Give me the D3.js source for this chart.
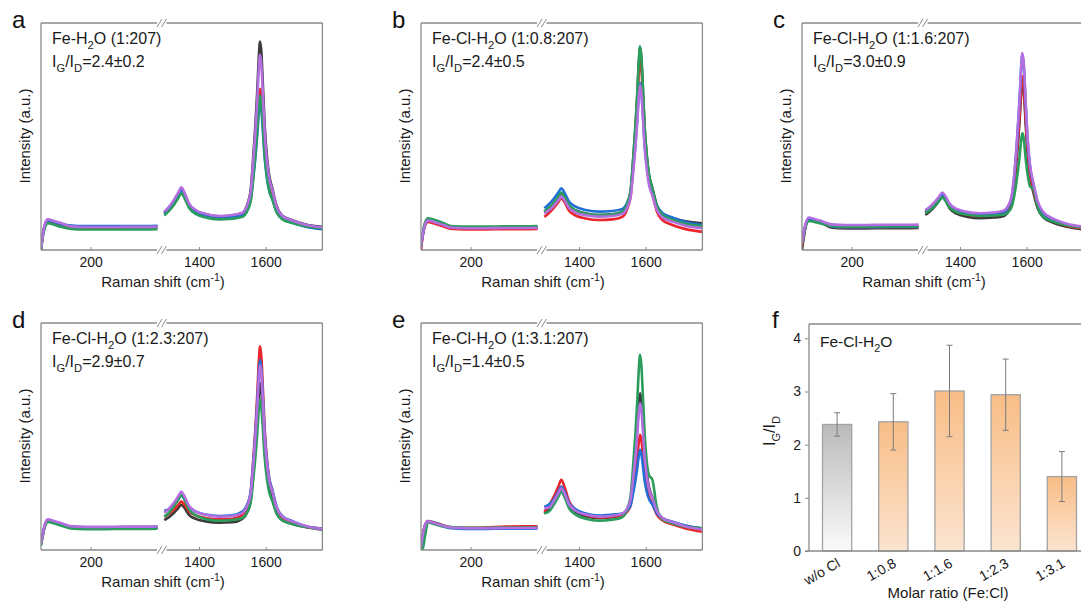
<!DOCTYPE html>
<html>
<head>
<meta charset="utf-8">
<script src="https://cdn.jsdelivr.net/npm/d3@7"></script>
<style>
  body { margin: 0; background: #fff; }
  svg { display: block; font-family: "Liberation Sans", Arial, sans-serif; }
</style>
</head>
<body>
<div id="chart"></div>
<script>
// Raman shift grid (cm-1) either side of the axis break
const shiftLow = [100, 104, 108, 114, 125, 140, 160, 190, 230, 270, 310, 335];
const shiftHigh = [1296, 1310, 1325, 1338, 1347, 1356, 1370, 1390, 1420, 1460, 1500, 1530, 1545, 1555, 1563, 1569, 1575, 1579, 1583, 1587, 1591, 1597, 1603, 1610, 1620, 1633, 1650, 1680, 1720, 1770];

// five spectra per sample, drawn in this order (black, red, blue, green, purple)
const spectraColors = ["#3b3b3b", "#e8262b", "#1f6fd6", "#2a9d5c", "#b36fe0"];

// intensities (a.u., 0-100 = panel height)
const aLow = [
  [0, 7.3, 11.3, 13.3, 12.7, 11.7, 10.5, 10.2, 10.2, 10.3, 10.3, 10.4],
  [0, 6.8, 10.5, 12.4, 11.8, 10.8, 9.9, 9.6, 9.6, 9.7, 9.7, 9.8],
  [0, 7.2, 11, 13, 12.4, 11.4, 10.8, 10.5, 10.5, 10.6, 10.6, 10.7],
  [0, 6.5, 10, 11.8, 11.2, 10.2, 9.3, 9, 9, 9.1, 9.1, 9.2],
  [0.5, 7.4, 11.5, 13.5, 12.9, 11.9, 10.4, 10.1, 10.1, 10.2, 10.2, 10.3]
];
const aHigh = [
  [16.6, 18.7, 21.6, 24.8, 27, 24.9, 20.2, 17.4, 15.7, 14.8, 15.2, 16.3, 20.2, 26.4, 41.8, 54.8, 71, 84.1, 91.8, 87.2, 74.8, 54.8, 42.5, 33.3, 27.1, 19.3, 15.1, 13.1, 11.2, 10.2],
  [16.1, 18, 20.9, 23.9, 26, 24, 19.4, 16.8, 15.1, 14.3, 14.7, 15.4, 18.3, 22.8, 34.1, 43.8, 55.7, 65.3, 71, 67.6, 58.5, 43.8, 34.7, 27.9, 23.4, 17.4, 14.1, 12.4, 10.8, 9.8],
  [16, 18, 20.8, 23.9, 26, 24, 19.4, 16.7, 15, 14.2, 14.6, 15.2, 17.8, 21.8, 32, 40.6, 51.3, 59.9, 65, 62, 53.8, 40.6, 32.5, 26.4, 22.3, 16.8, 13.8, 12, 10.3, 9.2],
  [15.2, 17.2, 19.9, 22.9, 25, 23, 18.6, 15.9, 14.3, 13.5, 13.8, 14.6, 17.3, 21.7, 32.6, 41.8, 53.3, 62.5, 68, 64.7, 56, 41.8, 33.1, 26.6, 22.2, 16.5, 13.5, 11.9, 10.5, 9.6],
  [16.9, 19, 22.1, 25.3, 27.6, 25.5, 20.5, 17.6, 15.9, 15, 15.4, 16.4, 20, 25.7, 39.9, 51.9, 66.8, 78.9, 86, 81.7, 70.4, 51.9, 40.6, 32, 26.4, 19, 15, 13, 11.1, 10]
];

const bLow = [
  [1.5, 7.4, 11.5, 13.5, 12.9, 11.9, 10.3, 10, 10, 10.1, 10.1, 10.2],
  [0, 6.8, 10.5, 12.4, 11.8, 10.8, 9.4, 9.1, 9.1, 9.2, 9.2, 9.3],
  [1.5, 7.3, 11.2, 13.2, 12.6, 11.6, 10.1, 9.8, 9.8, 9.9, 9.9, 10],
  [2, 7.7, 11.9, 14, 13.4, 12.4, 10.6, 10.3, 10.3, 10.4, 10.4, 10.5],
  [1.5, 7.2, 11, 13, 12.4, 11.4, 9.9, 9.6, 9.6, 9.7, 9.7, 9.8]
];
const bHigh = [
  [16.8, 18.5, 20.8, 23.3, 25, 23.4, 19.6, 17.4, 16.1, 15.4, 15.7, 16.9, 20.6, 26.4, 41.2, 53.7, 69.1, 81.6, 89, 84.6, 72.8, 53.7, 41.9, 33.1, 27.2, 19.9, 15.9, 14.1, 12.6, 11.8],
  [14.6, 16.3, 18.6, 21.1, 22.8, 21.2, 17.4, 15.2, 13.9, 13.2, 13.5, 14.6, 18.2, 23.9, 38.2, 50.3, 65.3, 77.5, 84.6, 80.3, 68.9, 50.3, 38.9, 30.3, 24.6, 17.2, 13.2, 11, 9.2, 8],
  [18.4, 20.2, 22.7, 25.3, 27.2, 25.4, 21.4, 19.1, 17.6, 16.9, 17.2, 18.1, 21, 25.5, 36.8, 46.4, 58.2, 67.9, 73.5, 70.1, 61.1, 46.4, 37.3, 30.6, 26, 19.8, 16.3, 14.3, 12.3, 11],
  [16.9, 18.6, 20.9, 23.5, 25.3, 23.6, 19.8, 17.5, 16.1, 15.4, 15.7, 16.9, 20.6, 26.5, 41.4, 54, 69.6, 82.3, 89.7, 85.2, 73.4, 54, 42.1, 33.2, 27.3, 19.6, 15.6, 13.4, 11.6, 10.5],
  [16, 17.5, 19.6, 21.9, 23.5, 22, 18.6, 16.5, 15.3, 14.7, 15, 15.9, 18.8, 23.4, 35, 44.9, 57, 66.9, 72.7, 69.2, 59.9, 44.9, 35.6, 28.6, 24, 17.8, 14.4, 12.5, 10.7, 9.6]
];

const cLow = [
  [0, 6, 11, 13.5, 12.9, 11.9, 9.8, 9.5, 9.5, 9.6, 9.6, 9.7],
  [2, 7.4, 11.5, 13.5, 12.9, 11.9, 10.3, 10, 10, 10.1, 10.1, 10.2],
  [5, 8.5, 11.7, 13.8, 13.2, 12.2, 10.3, 10, 10, 10.1, 10.1, 10.2],
  [3, 7, 10.9, 12.8, 12.4, 11.6, 10.6, 10.3, 10.3, 10.4, 10.4, 10.5],
  [3, 7.9, 12.2, 14.3, 13.7, 12.7, 11.3, 11, 11, 11.1, 11.1, 11.2]
];
const cHigh = [
  [15.4, 17, 19.3, 21.8, 23.5, 21.9, 18.2, 16, 14.7, 14, 14.3, 14.9, 17, 20.6, 29, 38, 49.4, 57.8, 68, 74, 70.4, 55.4, 41.6, 32, 25.4, 18.4, 14.4, 12, 10.2, 9.1],
  [16.4, 18, 20.3, 22.8, 24.5, 22.9, 19.2, 17, 15.7, 15, 15.3, 15.9, 18.1, 21.8, 30.4, 39.6, 51.3, 59.9, 70.4, 76.5, 72.8, 57.4, 43.3, 33.5, 26.7, 19.4, 15.3, 12.7, 10.7, 9.5],
  [16.8, 18.3, 20.4, 22.7, 24.3, 22.8, 19.4, 17.3, 16.1, 15.5, 15.8, 16.6, 19, 23.3, 33.1, 43.7, 57.1, 67, 79, 86, 81.8, 64.1, 47.9, 36.7, 28.9, 20.7, 16.1, 13.3, 11.2, 10],
  [16.2, 17.6, 19.6, 21.7, 23.2, 21.8, 18.6, 16.7, 15.6, 15, 15.2, 15.5, 16.8, 19, 24.1, 29.6, 36.5, 41.6, 47.9, 51.5, 49.3, 40.2, 33, 28, 27, 19, 14.5, 12.5, 10.9, 9.8],
  [17.6, 19.1, 21.3, 23.7, 25.3, 23.8, 20.2, 18.1, 16.8, 16.2, 16.5, 17.3, 19.7, 24, 33.9, 44.4, 57.9, 67.7, 79.7, 86.8, 82.6, 64.9, 48.7, 37.4, 29.6, 21.4, 16.7, 13.8, 11.6, 10.3]
];

const dLow = [
  [2.5, 7, 10.9, 12.8, 12.2, 11.2, 9.9, 9.6, 9.6, 9.7, 9.7, 9.8],
  [3, 7.2, 11, 13, 12.4, 11.4, 9.9, 9.6, 9.6, 9.7, 9.7, 9.8],
  [3, 7.3, 11.2, 13.2, 12.6, 11.6, 10.3, 10, 10, 10.1, 10.1, 10.2],
  [2, 6.8, 10.5, 12.4, 11.8, 10.8, 9.5, 9.2, 9.2, 9.3, 9.3, 9.4],
  [3, 7.4, 11.5, 13.5, 12.9, 11.9, 10.5, 10.2, 10.2, 10.3, 10.3, 10.4]
];
const dHigh = [
  [13.2, 14.5, 16.4, 18.5, 19.9, 18.6, 15.5, 13.7, 12.6, 12, 12.2, 13.7, 16.8, 21.7, 33.9, 44.2, 57, 67.4, 73.5, 69.8, 60.1, 44.2, 34.5, 27.1, 22.3, 16.2, 13, 11.5, 10.2, 9.5],
  [14.7, 16, 17.8, 19.9, 21.3, 20.1, 17, 15.2, 14.1, 13.5, 13.7, 15.5, 19.3, 25.4, 40.5, 53.4, 69.3, 82.1, 89.7, 85.2, 73, 53.4, 41.3, 32.2, 26.1, 18.3, 14.2, 12, 10.1, 9],
  [17.4, 17.9, 20, 22.4, 24, 22.5, 19, 16.9, 15.6, 15, 15.3, 16.9, 20.3, 25.7, 39.4, 51, 65.4, 77, 83.8, 79.7, 68.8, 51, 40.1, 31.9, 26.4, 19, 14.9, 12.7, 10.5, 9.1],
  [14.6, 16.5, 19.3, 22.2, 24.3, 22.4, 17.9, 15.3, 13.7, 12.9, 13.2, 14.1, 16.7, 21, 31.6, 40.7, 51.8, 60.9, 66.2, 63, 54.5, 40.7, 32.2, 25.8, 21.5, 15.9, 13, 11.5, 10.1, 9.2],
  [16.4, 18.2, 20.9, 23.7, 25.7, 23.8, 19.5, 17, 15.5, 14.7, 15, 16.3, 19.7, 25, 38.3, 49.6, 63.6, 74.9, 81.6, 77.6, 66.9, 49.6, 39, 31, 25.7, 18.6, 14.7, 12.6, 10.6, 9.3]
];

const eLow = [
  [1, 7, 10.9, 12.8, 12.2, 11.2, 10, 9.7, 9.7, 9.8, 9.8, 9.9],
  [1, 6.9, 10.6, 12.5, 11.9, 10.9, 10, 9.7, 9.9, 10.3, 10.4, 10.4],
  [1, 6.8, 10.5, 12.3, 11.7, 10.7, 9.6, 9.3, 9.3, 9.4, 9.4, 9.5],
  [0, 1, 6, 12.2, 11.6, 10.6, 10.1, 9.8, 9.8, 9.9, 9.9, 10],
  [1, 6.9, 10.7, 12.6, 12, 11, 9.9, 9.6, 9.6, 9.7, 9.7, 9.8]
];
const eHigh = [
  [16, 18.2, 21.3, 24.7, 27, 24.8, 19.7, 16.7, 14.9, 14, 14.4, 15.6, 18.3, 22.7, 33.6, 42.8, 54.3, 63.5, 69, 65.7, 57, 42.8, 34.1, 27.6, 23.2, 17.3, 14.1, 12.3, 10.6, 9.5],
  [16.8, 19.6, 23.6, 27.9, 30.9, 28.1, 21.6, 17.8, 15.5, 14.3, 14.8, 15.2, 17, 19.9, 27.2, 33.3, 40.9, 47.1, 50.7, 48.5, 42.7, 33.3, 27.5, 23.2, 20.3, 15.7, 13.1, 11.3, 9.5, 8],
  [19, 20, 22.4, 25.7, 28, 25.8, 20.8, 17.9, 16.1, 15.2, 15.6, 16.1, 17.5, 19.8, 25.5, 30.4, 36.4, 41.2, 44.1, 42.4, 37.8, 30.4, 25.8, 22.4, 20.1, 16.3, 14.1, 12.5, 10.8, 9.5],
  [16.2, 17, 20.1, 23.4, 25.7, 23.5, 18.5, 15.6, 13.8, 12.9, 13.3, 14.5, 18.1, 24, 38.6, 51, 66.3, 78.7, 86, 81.6, 69.9, 51, 39.3, 33, 31, 19, 13.6, 11.8, 10.3, 9.6],
  [18.4, 18.7, 21.7, 25, 27.2, 25.1, 20.2, 17.3, 15.6, 14.7, 15.1, 16, 18.5, 22.5, 32.4, 40.8, 51.3, 59.7, 64.7, 61.7, 53.8, 40.8, 32.9, 26.9, 23, 17.3, 14.1, 12.3, 10.4, 9.1]
];

const panelLetters = ["a", "b", "c", "d", "e"];
const panelSystems = ["Fe-H", "Fe-Cl-H", "Fe-Cl-H", "Fe-Cl-H", "Fe-Cl-H"];
const panelRatios = ["(1:207)", "(1:0.8:207)", "(1:1.6:207)", "(1:2.3:207)", "(1:3.1:207)"];
const panelIGID = ["2.4±0.2", "2.4±0.5", "3.0±0.9", "2.9±0.7", "1.4±0.5"];

// panel f: IG/ID vs molar ratio
const ratioCats = ["w/o Cl", "1:0.8", "1:1.6", "1:2.3", "1:3.1"];
const ratioMeans = [2.38, 2.43, 3.01, 2.94, 1.40];
const ratioErrors = [0.22, 0.53, 0.86, 0.67, 0.47];
const ratioTicks = [0, 1, 2, 3, 4];

const textColor = "#1a1a1a";
const frameColor = "#8a8a8a";

const svg = d3.select("#chart").append("svg")
    .attr("width", 1081)
    .attr("height", 603)
    .style("background", "#fff");

// text with sub/superscript pieces: [string, "" | "sub" | "sup"]
function richText(sel, parts, size) {
    let shift = 0;
    parts.forEach(([s, kind]) => {
        const want = kind === "sub" ? size * 0.3 : kind === "sup" ? -size * 0.4 : 0;
        sel.append("tspan")
            .attr("dy", want - shift)
            .attr("font-size", kind ? size * 0.7 : size)
            .text(s);
        shift = want;
    });
}

function drawSpectra(idx, ox, oy, low, high) {
    const g = svg.append("g").attr("transform", `translate(${ox},${oy})`);
    const left = 41, right = 322.4, top = 23, bottom = 250;
    const xLo = d3.scaleLinear().domain([100, 340]).range([left, 160]);
    const xHi = d3.scaleLinear().domain([1290, 1770]).range([162.3, right]);
    const y = d3.scaleLinear().domain([0, 100]).range([bottom, top]);

    const clipId = "clip" + idx;
    g.append("clipPath").attr("id", clipId)
        .append("rect").attr("x", left).attr("y", top)
        .attr("width", right - left).attr("height", bottom - top);

    const lineLo = d3.line()
        .x((d, i) => xLo(shiftLow[i]))
        .y(d => y(d))
        .curve(d3.curveMonotoneX);
    const lineHi = d3.line()
        .x((d, i) => xHi(shiftHigh[i]))
        .y(d => y(d))
        .curve(d3.curveMonotoneX);

    const plot = g.append("g").attr("clip-path", `url(#${clipId})`);
    low.forEach((s, k) => {
        plot.append("path").attr("d", lineLo(s))
            .attr("fill", "none").attr("stroke", spectraColors[k])
            .attr("stroke-width", 2.6).attr("stroke-linejoin", "round");
    });
    high.forEach((s, k) => {
        plot.append("path").attr("d", lineHi(s))
            .attr("fill", "none").attr("stroke", spectraColors[k])
            .attr("stroke-width", 2.6).attr("stroke-linejoin", "round");
    });

    // frame with axis break
    const frame = g.append("g").attr("stroke", frameColor).attr("stroke-width", 1.3).attr("fill", "none");
    frame.append("line").attr("x1", left).attr("x2", left).attr("y1", top).attr("y2", bottom);
    frame.append("line").attr("x1", right).attr("x2", right).attr("y1", top).attr("y2", bottom);
    [top, bottom].forEach(yy => {
        frame.append("line").attr("x1", left).attr("x2", 157).attr("y1", yy).attr("y2", yy);
        frame.append("line").attr("x1", 166.5).attr("x2", right).attr("y1", yy).attr("y2", yy);
        [159.5, 164].forEach(bx => {
            frame.append("line")
                .attr("x1", bx - 2.5).attr("y1", yy + 4)
                .attr("x2", bx + 2.5).attr("y2", yy - 4)
                .attr("stroke-width", 1);
        });
    });

    // ticks
    [[xLo, [200]], [xHi, [1400, 1600]]].forEach(([sc, vals]) => {
        const ax = g.append("g").attr("transform", `translate(0,${bottom})`)
            .call(d3.axisBottom(sc).tickValues(vals).tickSize(-3).tickPadding(7).tickFormat(d3.format("d")));
        ax.select(".domain").remove();
        ax.selectAll(".tick line").attr("stroke", frameColor);
        ax.selectAll(".tick text").attr("font-size", 14).attr("fill", textColor)
            .attr("font-family", "Liberation Sans, Arial, sans-serif");
    });

    // axis titles
    const xt = g.append("text").attr("x", 163).attr("y", 287)
        .attr("text-anchor", "middle").attr("fill", textColor);
    richText(xt, [["Raman shift (cm", ""], ["-1", "sup"], [")", ""]], 15);

    g.append("text")
        .attr("transform", "translate(30,136) rotate(-90)")
        .attr("text-anchor", "middle").attr("font-size", 15).attr("fill", textColor)
        .text("Intensity (a.u.)");

    // panel letter and labels
    g.append("text").attr("x", 12).attr("y", 28).attr("font-size", 24).attr("fill", "#111")
        .text(panelLetters[idx]);
    const t1 = g.append("text").attr("x", 52).attr("y", 44).attr("fill", textColor);
    richText(t1, [[panelSystems[idx], ""], ["2", "sub"], ["O " + panelRatios[idx], ""]], 16);
    const t2 = g.append("text").attr("x", 52).attr("y", 67).attr("fill", textColor);
    richText(t2, [["I", ""], ["G", "sub"], ["/I", ""], ["D", "sub"], ["=" + panelIGID[idx], ""]], 16);
}

drawSpectra(0, 0, 0, aLow, aHigh);
drawSpectra(1, 380, 0, bLow, bHigh);
drawSpectra(2, 761, 0, cLow, cHigh);
drawSpectra(3, 0, 300, dLow, dHigh);
drawSpectra(4, 380, 300, eLow, eHigh);

// ---- panel f ----
const fx = d3.scaleBand().domain(ratioCats).range([809, 1090]).paddingInner(0.48).paddingOuter(0.24);
const fy = d3.scaleLinear().domain([0, 4.27]).range([551, 324]);

const defs = svg.append("defs");
[["gradGray", "#bababa", "#fbfbfb"], ["gradOrange", "#f8bd86", "#fce4d0"]].forEach(([id, c0, c1]) => {
    const lg = defs.append("linearGradient").attr("id", id)
        .attr("x1", 0).attr("y1", 0).attr("x2", 0).attr("y2", 1);
    lg.append("stop").attr("offset", "0%").attr("stop-color", c0);
    lg.append("stop").attr("offset", "100%").attr("stop-color", c1);
});

const fg = svg.append("g");
fg.selectAll("rect.bar")
    .data(ratioCats)
    .enter()
    .append("rect")
    .attr("class", "bar")
    .attr("x", d => fx(d))
    .attr("width", fx.bandwidth())
    .attr("y", (d, i) => fy(ratioMeans[i]))
    .attr("height", (d, i) => fy(0) - fy(ratioMeans[i]))
    .attr("fill", (d, i) => i === 0 ? "url(#gradGray)" : "url(#gradOrange)")
    .attr("stroke", "#a3a3a3")
    .attr("stroke-width", 1.3);

const err = fg.append("g").attr("stroke", "#7a7a7a").attr("stroke-width", 1);
ratioCats.forEach((c, i) => {
    const cx = fx(c) + fx.bandwidth() / 2;
    const lo = fy(ratioMeans[i] - ratioErrors[i]);
    const hi = fy(ratioMeans[i] + ratioErrors[i]);
    err.append("line").attr("x1", cx).attr("x2", cx).attr("y1", lo).attr("y2", hi);
    err.append("line").attr("x1", cx - 3).attr("x2", cx + 3).attr("y1", lo).attr("y2", lo);
    err.append("line").attr("x1", cx - 3).attr("x2", cx + 3).attr("y1", hi).attr("y2", hi);
});

// frame of panel f
const ff = fg.append("g").attr("stroke", frameColor).attr("stroke-width", 1.3);
ff.append("line").attr("x1", 809).attr("x2", 809).attr("y1", 324).attr("y2", 551);
ff.append("line").attr("x1", 809).attr("x2", 1081).attr("y1", 324).attr("y2", 324);
ff.append("line").attr("x1", 805).attr("x2", 1081).attr("y1", 551).attr("y2", 551);

const fyAxis = fg.append("g").attr("transform", "translate(809,0)")
    .call(d3.axisLeft(fy).tickValues(ratioTicks).tickSize(4).tickPadding(4).tickFormat(d3.format("d")));
fyAxis.select(".domain").remove();
fyAxis.selectAll(".tick line").attr("stroke", frameColor);
fyAxis.selectAll(".tick text").attr("font-size", 14).attr("fill", textColor)
    .attr("font-family", "Liberation Sans, Arial, sans-serif");

const fxAxis = fg.append("g").attr("transform", "translate(0,551)")
    .call(d3.axisBottom(fx).tickSize(0).tickPadding(0));
fxAxis.select(".domain").remove();
fxAxis.selectAll(".tick text")
    .attr("font-size", 14).attr("fill", textColor)
    .attr("font-family", "Liberation Sans, Arial, sans-serif")
    .attr("text-anchor", "end")
    .attr("dy", 0).attr("y", 0)
    .attr("transform", "translate(4,15) rotate(-30)");

fg.append("text").attr("x", 948).attr("y", 598).attr("text-anchor", "middle")
    .attr("font-size", 15).attr("fill", textColor).text("Molar ratio (Fe:Cl)");

const fyl = fg.append("text").attr("transform", "translate(775,431) rotate(-90)")
    .attr("text-anchor", "middle").attr("fill", textColor);
richText(fyl, [["I", ""], ["G", "sub"], ["/I", ""], ["D", "sub"]], 16);

fg.append("text").attr("x", 772).attr("y", 328).attr("font-size", 24).attr("fill", "#111").text("f");
const ft = fg.append("text").attr("x", 820).attr("y", 347).attr("fill", textColor);
richText(ft, [["Fe-Cl-H", ""], ["2", "sub"], ["O", ""]], 15.5);
</script>
</body>
</html>
